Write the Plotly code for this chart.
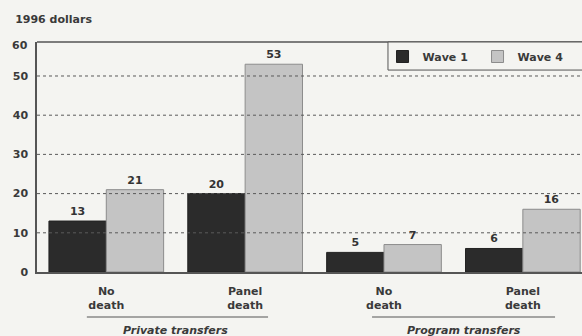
import plotly.graph_objects as go

# ---- data ----
categories = ["No<br>death", "Panel<br>death", "No<br>death", "Panel<br>death"]
series_names = ["Wave 1", "Wave 4"]
wave1 = [13, 20, 5, 6]
wave4 = [21, 53, 7, 16]
group_labels = ["Private transfers", "Program transfers"]
y_ticks = [0, 10, 20, 30, 40, 50]
y_top_tick = "60"
y_title = "1996 dollars"

xs = list(range(len(categories)))

BG = "#f4f4f1"
TXT = "#3a3a3a"
AX = "#555555"
FONT = "DejaVu Sans"

fig = go.Figure()
fig.add_bar(
    name=series_names[0], x=xs, y=wave1, text=wave1, textposition="outside",
    marker=dict(color="#2b2b2b", line=dict(color="#222222", width=1)),
    textfont=dict(family=FONT, size=11, color="#333333", weight="bold"),
    cliponaxis=False,
)
fig.add_bar(
    name=series_names[1], x=xs, y=wave4, text=wave4, textposition="outside",
    marker=dict(color="#c4c4c4", line=dict(color="#8c8c8c", width=1)),
    textfont=dict(family=FONT, size=11, color="#333333", weight="bold"),
    cliponaxis=False,
)

shapes = []
for v in y_ticks[1:]:
    shapes.append(dict(type="line", xref="paper", x0=0, x1=1, yref="y", y0=v, y1=v,
                       line=dict(color="#5a5a5a", width=1, dash="3px,3px"), layer="above"))
# top frame
shapes.append(dict(type="line", xref="paper", x0=0, x1=1, yref="paper", y0=1, y1=1,
                   line=dict(color=AX, width=1.5), layer="above"))
# legend box
shapes.append(dict(type="rect", xref="paper", x0=0.644, x1=1.02, yref="paper", y0=0.878, y1=1.0,
                   line=dict(color=AX, width=1), fillcolor=BG, layer="above"))
# group underlines
shapes.append(dict(type="line", xref="x", x0=xs[0] - 0.14, x1=xs[1] + 0.165, yref="paper",
                   y0=-0.1957, y1=-0.1957, line=dict(color=AX, width=1)))
shapes.append(dict(type="line", xref="x", x0=xs[2] - 0.086, x1=xs[3] + 0.232, yref="paper",
                   y0=-0.1957, y1=-0.1957, line=dict(color=AX, width=1)))

annotations = [
    dict(text=group_labels[0], xref="x", x=0.495, yref="paper", y=-0.2565, showarrow=False,
         xanchor="center", yanchor="middle",
         font=dict(family=FONT, size=11, color=TXT, weight="bold", style="italic")),
    dict(text=group_labels[1], xref="x", x=2.576, yref="paper", y=-0.2565, showarrow=False,
         xanchor="center", yanchor="middle",
         font=dict(family=FONT, size=11, color=TXT, weight="bold", style="italic")),
    dict(text=y_top_tick, xref="paper", x=0, xanchor="right", xshift=-7, yref="paper", y=1,
         yanchor="middle", yshift=-3, showarrow=False,
         font=dict(family=FONT, size=11, color=TXT, weight="bold")),
]

fig.update_layout(
    width=582, height=336,
    margin=dict(l=37, r=0, t=42, b=64),
    paper_bgcolor=BG, plot_bgcolor=BG,
    barmode="group", bargap=0.174, bargroupgap=0,
    font=dict(family=FONT, size=11, color=TXT),
    title=dict(text=y_title, x=0.026, xanchor="left", y=1 - 19.5 / 336, yanchor="middle",
               font=dict(family=FONT, size=11, color=TXT, weight="bold")),
    xaxis=dict(range=[-0.499, 3.426], tickvals=xs, ticktext=categories, automargin=False,
               showline=True, linecolor=AX, linewidth=1.5, showgrid=False, zeroline=False,
               ticks="outside", ticklen=8, tickcolor="rgba(0,0,0,0)",
               tickfont=dict(family=FONT, size=11, color=TXT, weight="bold")),
    yaxis=dict(range=[0, 58.67], tickvals=y_ticks, showline=True, linecolor=AX, linewidth=1.5,
               showgrid=False, zeroline=False, ticks="outside", ticklen=5, automargin=False,
               tickcolor="rgba(0,0,0,0)",
               tickfont=dict(family=FONT, size=11, color=TXT, weight="bold")),
    legend=dict(orientation="h", x=0.634, xanchor="left", y=1.0, yanchor="top",
                bgcolor="rgba(0,0,0,0)", entrywidth=50, entrywidthmode="pixels",
                font=dict(family=FONT, size=11, color=TXT, weight="bold"), traceorder="normal"),
    shapes=shapes, annotations=annotations,
    showlegend=True,
)

fig.write_html(
    "out.html",
    config={"displayModeBar": False},
    post_script="document.body.style.margin='0';document.body.style.background='%s';" % BG,
)
